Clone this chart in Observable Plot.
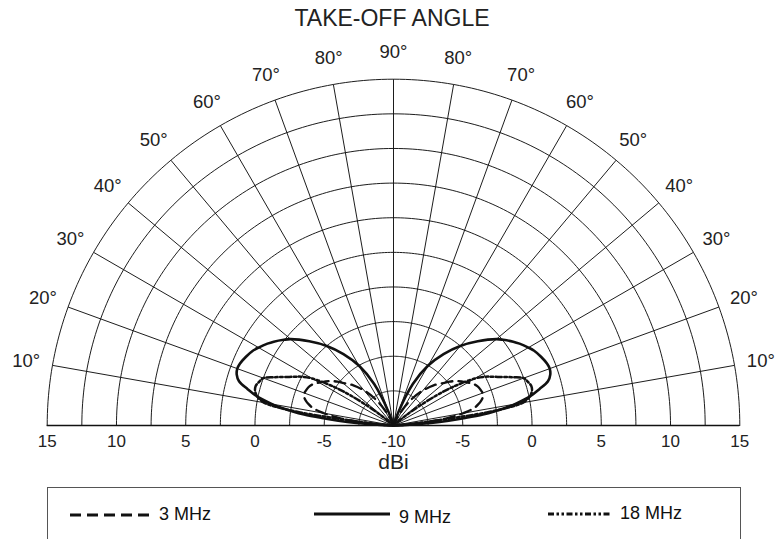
<!DOCTYPE html>
<html>
<head>
<meta charset="utf-8">
<script src="https://cdn.jsdelivr.net/npm/d3@7"></script>
<script src="https://cdn.jsdelivr.net/npm/@observablehq/plot@0.6"></script>
<style>
  html, body { margin: 0; padding: 0; background: #fff; }
  body { width: 783px; height: 539px; overflow: hidden; position: relative; font-family: Arial, "Liberation Sans", sans-serif; }
  #legend { position: absolute; left: 47px; top: 487px; width: 694px; height: 80px; border: 1px solid #555; box-sizing: border-box; }
  .item { position: absolute; display: flex; align-items: center; font-size: 18px; color: #111; }
  .item svg { margin-right: 9px; }
</style>
</head>
<body>
<div id="chart"></div>
<div id="legend"></div>
<script>
// ---- data ----
const title = "TAKE-OFF ANGLE";
const axisLabel = "dBi";
// elevation (take-off) angles, degrees
const angles = [0, 2, 4, 5, 6, 7, 8, 9, 10, 12, 14, 16, 18, 20, 22, 25, 28, 30, 33, 35, 38, 40, 45, 50, 55, 60, 65, 70, 75, 80, 90];
// gain in dBi at each angle
const gain3MHz  = [-10, -10, -9, -8.2, -7.4, -6.6, -6.0, -5.4, -4.9, -4.1, -3.7, -3.4, -3.2, -3.15, -3.2, -3.3, -3.55, -3.8, -4.15, -4.4, -4.85, -5.2, -5.9, -6.7, -7.6, -8.6, -9.6, -10, -10, -10, -10];
const gain9MHz  = [-10, -9.3, -7.3, -6.0, -4.8, -3.5, -2.6, -1.8, -1.1, 0.05, 0.85, 1.6, 1.9, 2.0, 1.95, 1.75, 1.5, 1.25, 0.85, 0.55, 0.05, -0.3, -1.4, -2.5, -3.7, -5.0, -6.7, -9.0, -10, -10, -10];
const gain18MHz = [-10, -10, -9.5, -8.8, -8.0, -6.0, -3.2, -1.4, -0.5, 0.05, 0.3, 0.35, 0.2, 0.0, -0.7, -1.7, -2.5, -3.2, -4.9, -6.2, -8.2, -9.3, -10, -10, -10, -10, -10, -10, -10, -10, -10];
const seriesNames = ["3 MHz", "9 MHz", "18 MHz"];
const seriesGains = [gain3MHz, gain9MHz, gain18MHz];
const seriesDash = ["11,6", null, "6,2.5,2.5,2.5,2.5,2.5"];
const seriesWidth = [2.3, 2.6, 2.5];
// dBi rings and labels
const dbMin = -10, dbMax = 15;
const ringStep = 2.5;
const tickValues = [15, 10, 5, 0, -5, -10, -5, 0, 5, 10, 15];
const angleLabels = [10, 20, 30, 40, 50, 60, 70, 80, 90];
const spokeAngles = d3.range(10, 180, 10);

// ---- geometry helpers ----
const R = dbMax - dbMin;             // outer radius in dB units
const rad = d => d * Math.PI / 180;
const W = 783, H = 485;
const cx = 393, cy = 425, pxPerDb = 346.3 / R;

const rings = [];
for (let k = 1; k <= R / ringStep; k++) {
  const r = k * ringStep;
  for (let a = 0; a <= 180; a += 1) rings.push({ring: k, x: r * Math.cos(rad(a)), y: r * Math.sin(rad(a))});
}
const spokes = [0, ...spokeAngles, 180].map(a => ({a, x2: R * Math.cos(rad(a)), y2: R * Math.sin(rad(a))}));

const curves = [];
seriesNames.forEach((name, si) => {
  ["L", "R"].forEach(side => {
    let prev = null;
    angles.forEach((a, i) => {
      const r = Math.max(0, seriesGains[si][i] - dbMin);
      const x = (side === "L" ? -1 : 1) * r * Math.cos(rad(a));
      const y = r * Math.sin(rad(a));
      const key = x.toFixed(4) + "," + y.toFixed(4);
      if (key === prev) return;
      prev = key;
      curves.push({name, side, key: name + side, si, x, y});
    });
  });
});

const tickData = tickValues.map((v, i) => ({v, x: (i < 5 ? -1 : 1) * (v - dbMin)}));
const labelR = 373 / pxPerDb;
const angLab = [];
angleLabels.forEach(a => {
  angLab.push({t: a + "°", x: -labelR * Math.cos(rad(a)), y: labelR * Math.sin(rad(a))});
  if (a !== 90) angLab.push({t: a + "°", x: labelR * Math.cos(rad(a)), y: labelR * Math.sin(rad(a))});
});

const marks = [
  Plot.line(rings, {x: "x", y: "y", z: "ring", stroke: "#111", strokeWidth: 0.95}),
  Plot.link(spokes, {x1: 0, y1: 0, x2: "x2", y2: "y2", stroke: "#111", strokeWidth: 0.95}),
  Plot.ruleY([0], {x1: -R, x2: R, stroke: "#111", strokeWidth: 1.3}),
  ...seriesNames.map((name, si) => Plot.line(curves.filter(d => d.si === si), {
    x: "x", y: "y", z: "key", curve: "catmull-rom",
    stroke: "#111", strokeWidth: seriesWidth[si], strokeDasharray: seriesDash[si] || undefined
  })),
  Plot.text(tickData, {x: "x", y: 0, text: d => String(d.v), dy: 16, fontSize: 17, fill: "#222"}),
  Plot.text([axisLabel], {x: 0, y: 0, text: d => d, dy: 37, fontSize: 21, fill: "#222"}),
  Plot.text(angLab, {x: "x", y: "y", text: "t", fontSize: 18.5, fill: "#222"}),
  Plot.text([title], {frameAnchor: "top", dy: 9, fontSize: 23, fill: "#222"})
];

const chart = Plot.plot({
  width: W, height: H,
  marginLeft: 0, marginRight: 0, marginTop: 0, marginBottom: 0,
  x: {domain: [-cx / pxPerDb, (W - cx) / pxPerDb], range: [0, W], axis: null},
  y: {domain: [(cy - H) / pxPerDb, cy / pxPerDb], range: [H, 0], axis: null},
  style: {fontFamily: "Arial, 'Liberation Sans', sans-serif", background: "#fff", color: "#111", overflow: "visible"},
  marks
});
document.getElementById("chart").appendChild(chart);

// ---- legend ----
const legend = document.getElementById("legend");
const legendPos = [{left: 22, top: 27, w: 80, tdy: 0}, {left: 266, top: 26, w: 76, tdy: 4}, {left: 500, top: 26, w: 63, tdy: 0}];
seriesNames.forEach((name, si) => {
  const p = legendPos[si];
  const div = document.createElement("div");
  div.className = "item";
  div.style.left = p.left + "px";
  div.style.top = (p.top - 11) + "px";
  const sw = d3.create("svg").attr("width", p.w).attr("height", 10);
  sw.append("line").attr("x1", 0).attr("x2", p.w).attr("y1", 5).attr("y2", 5)
    .attr("stroke", "#111").attr("stroke-width", seriesWidth[si] + 0.6)
    .attr("stroke-dasharray", seriesDash[si] || null);
  div.appendChild(sw.node());
  const span = document.createElement("span");
  span.textContent = name;
  span.style.position = "relative";
  span.style.top = p.tdy + "px";
  div.appendChild(span);
  legend.appendChild(div);
});
</script>
</body>
</html>
